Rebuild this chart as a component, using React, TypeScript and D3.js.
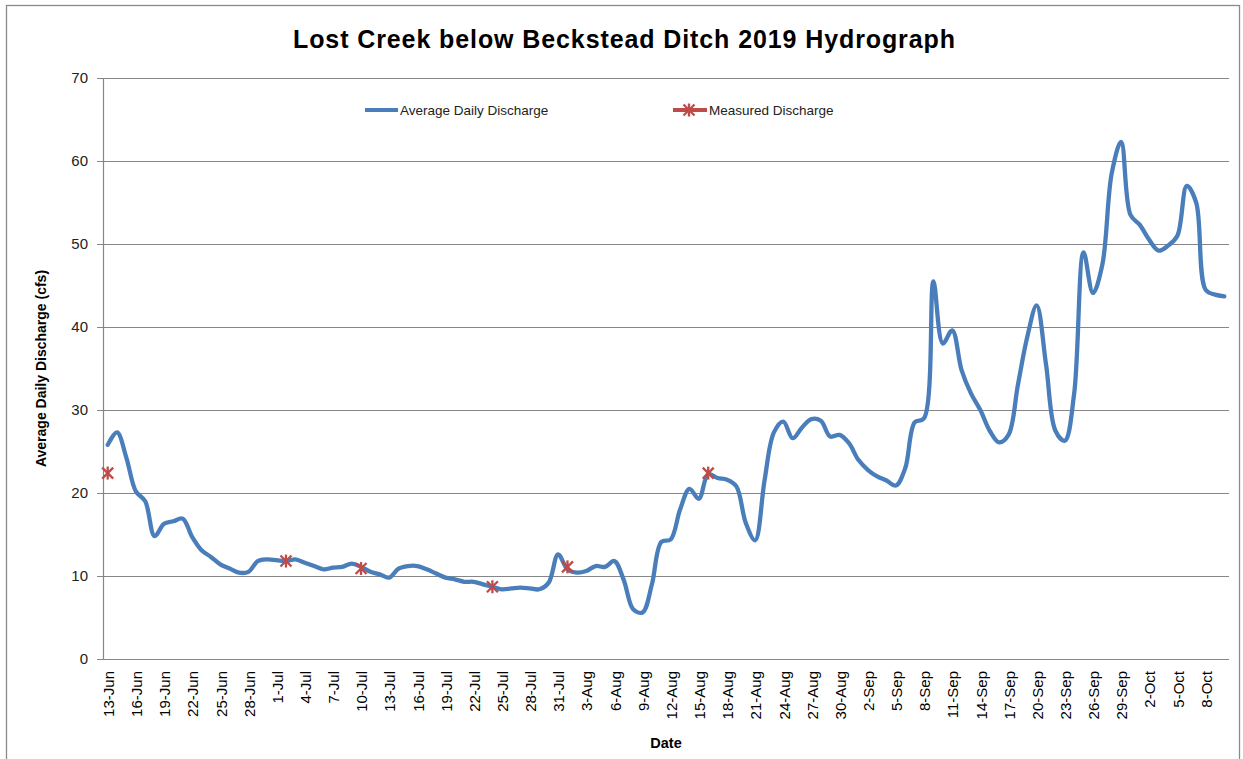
import React from "react";
import * as d3 from "d3";

// Daily values, 13-Jun (index 0) to 10-Oct (index 119)
const dailyDischarge: number[] = [
  25.8, 27.3, 24.2, 20.2, 19.0, 14.8, 16.3, 16.6, 16.9, 14.7,
  13.1, 12.3, 11.4, 10.9, 10.4, 10.5, 11.8, 12.0, 11.9, 11.8,
  12.0, 11.6, 11.2, 10.8, 11.0, 11.1, 11.5, 11.1, 10.5, 10.2,
  9.8, 10.9, 11.2, 11.2, 10.8, 10.3, 9.8, 9.6, 9.3, 9.3,
  9.0, 8.7, 8.4, 8.5, 8.6, 8.5, 8.4, 9.2, 12.6, 10.8,
  10.4, 10.6, 11.2, 11.1, 11.8, 9.5, 6.0, 5.6, 9.0, 14.1,
  14.4, 18.0, 20.5, 19.3, 22.3, 21.8, 21.6, 20.8, 16.4, 14.3,
  21.5, 27.3, 28.6, 26.6, 27.9, 28.9, 28.7, 26.8, 27.0, 26.0,
  24.0, 22.8, 22.0, 21.5, 20.9, 23.0, 28.5, 29.0, 45.5, 38.0,
  39.6, 34.8, 32.0, 30.0, 27.5, 26.1, 27.0, 33.0, 38.8, 42.6,
  35.5, 27.5, 26.3, 32.0, 49.0, 44.1, 47.5, 58.5, 62.3, 53.5,
  52.3, 50.5, 49.2, 49.8, 51.0, 57.0, 55.0, 44.5, 43.9, 43.7,
];

// Measured discharge: day index and value
const measuredDays: number[] = [0, 19, 27, 41, 49, 64];
const measuredValues: number[] = [22.4, 11.8, 10.9, 8.7, 11.1, 22.4];

// Tick labels every 3 days starting at 13-Jun
const tickLabels: string[] = [
  "13-Jun", "16-Jun", "19-Jun", "22-Jun", "25-Jun", "28-Jun",
  "1-Jul", "4-Jul", "7-Jul", "10-Jul", "13-Jul", "16-Jul", "19-Jul", "22-Jul",
  "25-Jul", "28-Jul", "31-Jul", "3-Aug", "6-Aug", "9-Aug", "12-Aug", "15-Aug",
  "18-Aug", "21-Aug", "24-Aug", "27-Aug", "30-Aug", "2-Sep", "5-Sep", "8-Sep",
  "11-Sep", "14-Sep", "17-Sep", "20-Sep", "23-Sep", "26-Sep", "29-Sep",
  "2-Oct", "5-Oct", "8-Oct",
];
const yTicks: number[] = [0, 10, 20, 30, 40, 50, 60, 70];

const W = 1243;
const H = 759;
const left = 103;
const right = 1229;
const top = 78;
const bottom = 659;
const font = "'Liberation Sans', Arial, sans-serif";
const blue = "#4A7EBB";
const red = "#BE4B48";
const grid = "#868686";

function Star({ x, y }: { x: number; y: number }) {
  const r = 5.5;
  return (
    <g stroke={red} strokeWidth={2.3} strokeLinecap="butt">
      <line x1={x - r} y1={y - r} x2={x + r} y2={y + r} />
      <line x1={x - r} y1={y + r} x2={x + r} y2={y - r} />
      <line x1={x} y1={y - r - 1} x2={x} y2={y + r + 1} />
    </g>
  );
}

export default function App() {
  const idx = dailyDischarge.map((_, i) => i);
  const xBand = d3.scaleBand<number>().domain(idx).range([left, right]);
  const bw = xBand.bandwidth();
  const xc = (i: number) => (xBand(i) as number) + bw / 2;
  const y = d3.scaleLinear().domain([0, 70]).range([bottom, top]);

  const line = d3
    .line<number>()
    .x((_, i) => xc(i))
    .y((d) => y(d))
    .curve(d3.curveCatmullRom.alpha(0.5));

  return (
    <svg
      width={W}
      height={H}
      style={{ position: "absolute", left: 0, top: 0, background: "#fff" }}
      fontFamily={font}
    >
      <rect x={6.5} y={5.5} width={1233} height={760} fill="#fff" stroke="#8a8a8a" strokeWidth={1.3} />
      <text x={624} y={48} textAnchor="middle" fontSize={25} fontWeight="bold" fill="#000" textLength={662} lengthAdjust="spacing">
        Lost Creek below Beckstead Ditch 2019 Hydrograph
      </text>

      {/* gridlines */}
      {yTicks.map((t) => (
        <g key={t}>
          <line x1={left - 6} x2={right} y1={Math.round(y(t)) + 0.5} y2={Math.round(y(t)) + 0.5} stroke={grid} strokeWidth={1.2} />
          <text x={88} y={y(t)} dy="0.35em" textAnchor="end" fontSize={15} fill="#222">
            {t}
          </text>
        </g>
      ))}
      <line x1={left + 0.5} x2={left + 0.5} y1={top} y2={bottom} stroke={grid} strokeWidth={1.2} />

      {/* x labels */}
      {tickLabels.map((lab, k) => {
        const xi = xc(k * 3);
        return (
          <text
            key={lab}
            transform={`translate(${xi + 1},${671}) rotate(-90)`}
            textAnchor="end"
            dy="0.35em"
            fontSize={15}
            fill="#000"
          >
            {lab}
          </text>
        );
      })}

      <text x={666} y={748} textAnchor="middle" fontSize={14.5} fontWeight="bold">
        Date
      </text>
      <text
        transform={`translate(46,${(top + bottom) / 2}) rotate(-90)`}
        textAnchor="middle"
        fontSize={14}
        fontWeight="bold"
      >
        Average Daily Discharge (cfs)
      </text>

      {/* data line */}
      <path d={line(dailyDischarge) || ""} fill="none" stroke={blue} strokeWidth={4.3} strokeLinejoin="round" strokeLinecap="round" />
      {measuredDays.map((d, k) => (
        <Star key={d} x={xc(d)} y={y(measuredValues[k])} />
      ))}

      {/* legend */}
      <line x1={365} x2={398} y1={110} y2={110} stroke={blue} strokeWidth={4.2} />
      <text x={400} y={110} dy="0.35em" fontSize={13.5} fill="#222">
        Average Daily Discharge
      </text>
      <line x1={673} x2={707} y1={110} y2={110} stroke={red} strokeWidth={4} />
      <Star x={689} y={110} />
      <text x={709} y={110} dy="0.35em" fontSize={13.5} fill="#222">
        Measured Discharge
      </text>
    </svg>
  );
}
